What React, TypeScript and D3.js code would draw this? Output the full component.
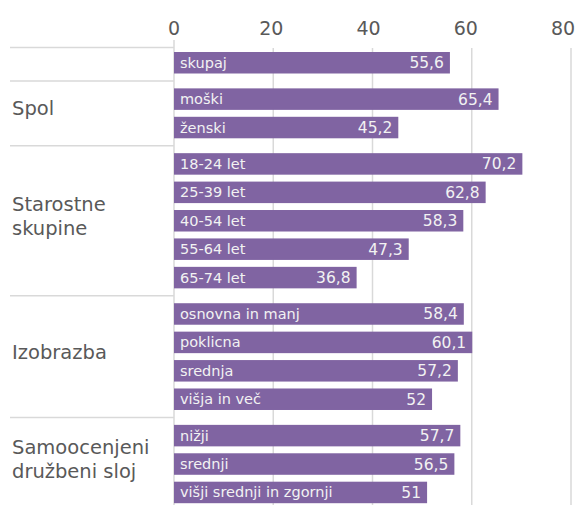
import * as d3 from "d3";

// categories, grouped; values are percentages
const GROUPS = ["", "Spol", "Starostne\nskupine", "Izobrazba", "Samoocenjeni\ndružbeni sloj"];
const CATEGORIES = [
	"skupaj",
	"moški",
	"ženski",
	"18-24 let",
	"25-39 let",
	"40-54 let",
	"55-64 let",
	"65-74 let",
	"osnovna in manj",
	"poklicna",
	"srednja",
	"višja in več",
	"nižji",
	"srednji",
	"višji srednji in zgornji",
];
const GROUP_OF = [0, 1, 1, 2, 2, 2, 2, 2, 3, 3, 3, 3, 4, 4, 4];
const VALUES = [55.6, 65.4, 45.2, 70.2, 62.8, 58.3, 47.3, 36.8, 58.4, 60.1, 57.2, 52, 57.7, 56.5, 51];
const TICKS = [0, 20, 40, 60, 80];

const W = 579;
const H = 505;
const FONT = "'Century Gothic', 'DejaVu Sans', sans-serif";
const PURPLE = "#8064a2";
const GRID = "#d9d9d9";
const INK = "#595959";

const GAP = 0.28; // extra space between groups, in bar steps
const BAR_H = 21.5;

export default function App() {
	const x = d3.scaleLinear().domain([0, 80]).range([174, 571]);
	const slot = (i: number) => i + GROUP_OF[i] * GAP;
	const y = d3
		.scaleLinear()
		.domain([0, slot(CATEGORIES.length - 1)])
		.range([52, 481.7]);

	// group extents
	const groupSpans = GROUPS.map((_, g) => {
		const idx = CATEGORIES.map((_, i) => i).filter((i) => GROUP_OF[i] === g);
		const top = y(slot(idx[0]));
		const bottom = y(slot(idx[idx.length - 1])) + BAR_H;
		return { top, bottom };
	});

	const separators: number[] = [groupSpans[0].top - 4.5];
	for (let g = 1; g < GROUPS.length; g++) {
		separators.push((groupSpans[g - 1].bottom + groupSpans[g].top) / 2);
	}

	const fmt = (v: number) => String(v).replace(".", ",");

	return (
		<svg
			width={W}
			height={H}
			style={{ position: "absolute", left: 0, top: 0, fontFamily: FONT }}
		>
			<rect width={W} height={H} fill="#fff" />

			{/* gridlines */}
			{TICKS.slice(1).map((t) => (
				<line key={t} x1={x(t)} x2={x(t)} y1={48} y2={H} stroke={GRID} strokeWidth={1.5} />
			))}
			<line x1={x(0)} x2={x(0)} y1={40} y2={H} stroke={GRID} strokeWidth={1.5} />

			{/* tick labels (drift slightly left, last one stays inside the frame) */}
			{TICKS.map((t) => (
				<text key={t} x={x(t) - t * 0.1} y={35} textAnchor="middle" fontSize={19} fill={INK}>
					{t}
				</text>
			))}

			{/* group separators */}
			{separators.map((s, i) => (
				<line key={i} x1={10} x2={x(0)} y1={s} y2={s} stroke={GRID} strokeWidth={1.5} />
			))}

			{/* group labels */}
			{GROUPS.map((g, gi) => {
				if (!g) return null;
				const lines = g.split("\n");
				const mid = (groupSpans[gi].top + groupSpans[gi].bottom) / 2;
				const lh = 24.5;
				const first = mid - ((lines.length - 1) * lh) / 2 + 2;
				return (
					<text key={gi} x={12} fontSize={19.5} fill={INK}>
						{lines.map((l, li) => (
							<tspan key={li} x={12} y={first + li * lh}>
								{l}
							</tspan>
						))}
					</text>
				);
			})}

			{/* bars */}
			{CATEGORIES.map((c, i) => {
				const top = y(slot(i));
				const cy = top + BAR_H / 2;
				return (
					<g key={c}>
						<rect x={x(0)} y={top} width={x(VALUES[i]) - x(0)} height={BAR_H} fill={PURPLE} />
						<text x={x(0) + 6} y={cy + 5} fontSize={14.5} fill="#f2f2f2">
							{c}
						</text>
						<text x={x(VALUES[i]) - 6} y={cy + 5.5} textAnchor="end" fontSize={15.5} fill="#f2f2f2">
							{fmt(VALUES[i])}
						</text>
					</g>
				);
			})}
		</svg>
	);
}
